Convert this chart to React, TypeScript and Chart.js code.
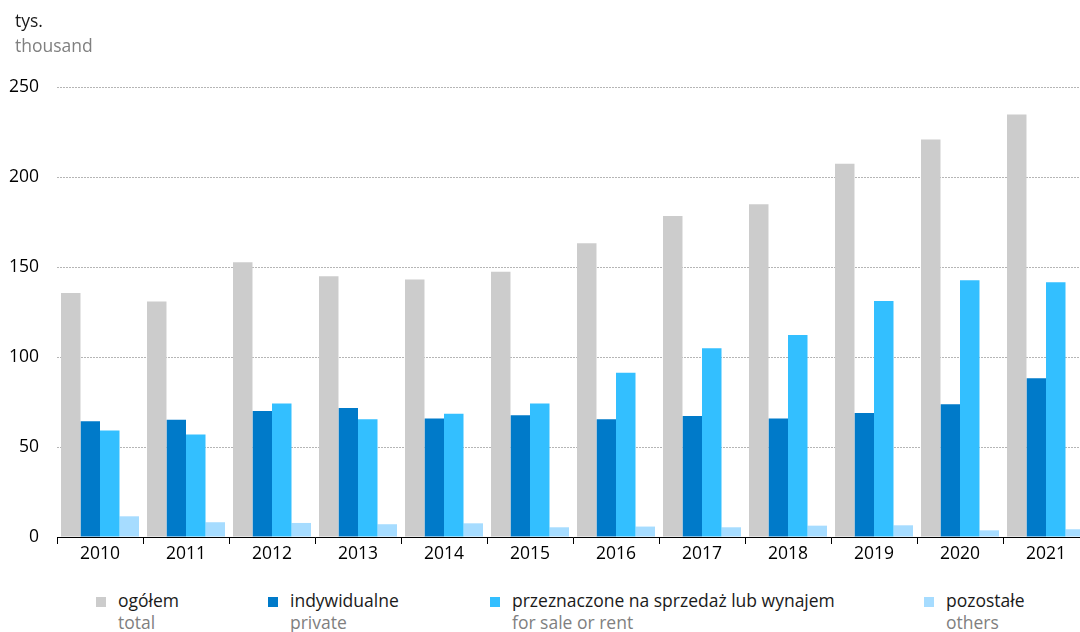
import React, { useEffect, useRef } from "react";
import { Chart, registerables } from "chart.js";

Chart.register(...registerables);

const years = ["2010", "2011", "2012", "2013", "2014", "2015", "2016", "2017", "2018", "2019", "2020", "2021"];
const ogolem = [135.6, 130.8, 152.6, 144.8, 143.0, 147.4, 163.2, 178.3, 184.8, 207.4, 220.8, 234.7];
const indywidualne = [64.3, 65.2, 70.0, 71.7, 65.9, 67.6, 65.4, 67.2, 65.9, 68.9, 73.7, 88.2];
const naSprzedaz = [59.1, 56.9, 74.1, 65.4, 68.5, 74.1, 91.3, 104.8, 112.2, 131.1, 142.6, 141.5];
const pozostale = [11.5, 8.2, 7.8, 7.1, 7.6, 5.4, 5.8, 5.4, 6.3, 6.5, 3.7, 4.3];

const seriesPl = ["ogółem", "indywidualne", "przeznaczone na sprzedaż lub wynajem", "pozostałe"];
const seriesEn = ["total", "private", "for sale or rent", "others"];
const colors = ["#cccccc", "#007ac9", "#33bfff", "#a6dcff"];
const legendX = [96, 268, 490, 924];

const FONT = "'Open Sans', 'Noto Sans', sans-serif";

export default function App() {
  const canvasRef = useRef<HTMLCanvasElement | null>(null);

  useEffect(() => {
    const canvas = canvasRef.current;
    if (!canvas) return;
    const values = [ogolem, indywidualne, naSprzedaz, pozostale];
    const chart = new Chart(canvas, {
      type: "bar",
      data: {
        labels: years,
        datasets: values.map((v, i) => ({
          label: seriesPl[i],
          data: v,
          backgroundColor: colors[i],
          borderWidth: 0,
          categoryPercentage: 0.907,
          barPercentage: 1.0,
        })),
      },
      options: {
        animation: false,
        responsive: false,
        maintainAspectRatio: false,
        layout: { padding: { top: 87, right: 11, bottom: 0, left: 0 } },
        plugins: {
          legend: { display: false },
          tooltip: { enabled: false },
          title: { display: false },
        },
        scales: {
          x: {
            offset: true,
            grid: {
              display: true,
              offset: true,
              drawOnChartArea: false,
              drawTicks: true,
              tickLength: 7,
              color: "#000000",
              lineWidth: 1,
            },
            border: { display: true, color: "#000000", width: 1 },
            ticks: {
              color: "#000000",
              font: { family: FONT, size: 17.5 },
              padding: 0,
              maxRotation: 0,
              autoSkip: false,
            },
            afterFit: (scale: any) => {
              scale.height = 33;
            },
          },
          y: {
            min: 0,
            max: 250,
            ticks: {
              stepSize: 50,
              color: "#000000",
              font: { family: FONT, size: 17.5 },
              padding: 18,
            },
            grid: {
              drawTicks: false,
              color: "#b5b5b5",
              lineWidth: 1,
            },
            border: { display: false, dash: [2, 1] },
            afterFit: (scale: any) => {
              scale.width = 57;
            },
          },
        },
      },
    });
    return () => {
      chart.destroy();
    };
  }, []);

  return (
    <div
      style={{
        position: "fixed",
        left: 0,
        top: 0,
        width: 1080,
        height: 632,
        overflow: "hidden",
        background: "#ffffff",
        fontFamily: FONT,
      }}
    >
      <canvas
        ref={canvasRef}
        width={1100}
        height={570}
        style={{ position: "absolute", left: 0, top: 0, width: 1100, height: 570 }}
      />
      <div
        style={{
          position: "absolute",
          left: 15,
          top: 8,
          fontSize: 17.5,
          lineHeight: "24.5px",
          whiteSpace: "nowrap",
        }}
      >
        <div style={{ color: "#1a1a1a" }}>tys.</div>
        <div style={{ color: "#808080" }}>thousand</div>
      </div>
      {seriesPl.map((name, i) => (
        <div key={name}>
          <div
            style={{
              position: "absolute",
              left: legendX[i],
              top: 597,
              width: 10,
              height: 10,
              background: colors[i],
            }}
          />
          <div
            style={{
              position: "absolute",
              left: legendX[i] + 22,
              top: 588.5,
              fontSize: 17.5,
              lineHeight: "22.5px",
              whiteSpace: "nowrap",
            }}
          >
            <div style={{ color: "#1a1a1a" }}>{name}</div>
            <div style={{ color: "#808080" }}>{seriesEn[i]}</div>
          </div>
        </div>
      ))}
    </div>
  );
}
